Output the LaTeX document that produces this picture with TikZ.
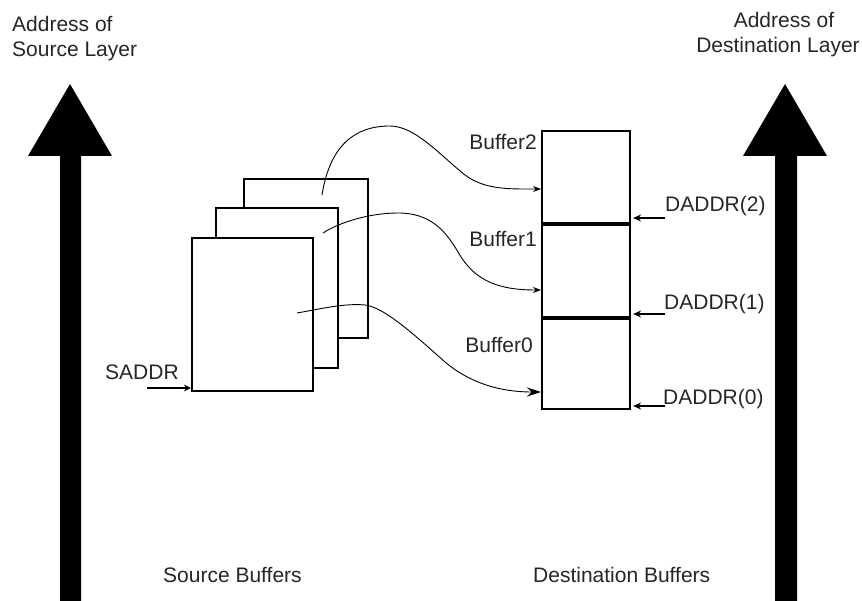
\documentclass[tikz,border=0pt]{standalone}
\usepackage{fontspec}
\setmainfont{Liberation Sans}
\usetikzlibrary{arrows.meta}
\begin{document}
\begin{tikzpicture}[x=1pt,y=-1pt,
  lbl/.style={inner sep=0pt,font=\fontsize{21}{25}\selectfont,text=black!85},
  bigarrow/.style={fill=black,draw=none},
  srcbox/.style={draw,line width=2.2pt,fill=white,inner sep=0pt,rectangle},
  dstbox/.style={draw,line width=2.2pt,inner sep=0pt,rectangle,minimum width=88pt},
  divider/.style={line width=3.2pt},
  flow/.style={line width=0.9pt,-{Stealth[length=8pt,width=6pt]}},
  bigflow/.style={line width=0.9pt,-{Stealth[length=14pt,width=9pt]}},
  ptr/.style={line width=1.5pt,-{Stealth[length=8pt,width=7pt]}}]
\useasboundingbox (0,0) rectangle (862,601);

% big address arrows
\fill (60,601) -- (60,156) -- (28,156) -- (70,84) -- (112,156) -- (81,156) -- (81,601) -- cycle;
\fill (775,601) -- (775,156) -- (743,156) -- (785,84) -- (827,156) -- (797,156) -- (797,601) -- cycle;

% top labels
\node[lbl,anchor=base west] (srcA) at (12,32) {Address of};
\node[lbl,anchor=base west] (srcB) at (12,57) {Source Layer};
\node[lbl,anchor=base] (dstA) at (784,28) {Address of};
\node[lbl,anchor=base] (dstB) at (778,53) {Destination Layer};

% source buffers (stacked)
\node[srcbox,minimum width=124pt,minimum height=159pt] (s2) at (306,258.5) {};
\node[srcbox,minimum width=122pt,minimum height=160pt] (s1) at (277,288) {};
\node[srcbox,minimum width=121pt,minimum height=153pt] (s0) at (252.5,314.5) {};

% destination buffers
\node[dstbox,minimum height=92pt] (db2) at (586,177) {};
\node[dstbox,minimum height=94pt] (db1) at (586,270) {};
\node[dstbox,minimum height=92pt] (db0) at (586,363) {};
\draw[divider] (db2.south west) -- (db2.south east);
\draw[divider] (db1.south west) -- (db1.south east);

% buffer labels
\node[lbl,anchor=base east] (b2) at (537,150) {Buffer2};
\node[lbl,anchor=base east] (b1) at (537,247) {Buffer1};
\node[lbl,anchor=base east] (b0) at (533,353) {Buffer0};

% flow curves
\coordinate (c2s) at (322,195);
\coordinate (c1s) at (323,233);
\coordinate (c0s) at (297,313);
\coordinate (c2e) at (541,189);
\coordinate (c1e) at (541,290);
\coordinate (c0e) at (541,392);
\draw[flow] (c2s) .. controls (330,145) and (355,126) .. (390,126)
  .. controls (415,126) and (440,155) .. (465,175)
  .. controls (485,190) and (510,189) .. (c2e);
\draw[flow] (c1s) .. controls (340,222) and (370,213) .. (398,213)
  .. controls (430,213) and (445,230) .. (458,252)
  .. controls (475,282) and (500,290) .. (c1e);
\draw[bigflow] (c0s) .. controls (320,309) and (345,303) .. (365,305)
  .. controls (385,307) and (420,340) .. (445,362)
  .. controls (470,383) and (500,392) .. (c0e);

% SADDR
\node[lbl,anchor=base west] (sa) at (105,380) {SADDR};
\coordinate (sas) at (147,388);
\draw[ptr,line width=1.3pt,-{Stealth[length=7pt,width=7pt]}] (sas) -- (s0.west |- sas);

% DADDR pointers
\coordinate (d2s) at (665,218);
\coordinate (d1s) at (665,314);
\coordinate (d0s) at (665,406);
\draw[ptr] (d2s) -- ([xshift=2pt]db2.east |- d2s);
\draw[ptr] (d1s) -- ([xshift=2pt]db1.east |- d1s);
\draw[ptr] (d0s) -- ([xshift=2pt]db0.east |- d0s);
\node[lbl,anchor=base west] (l2) at (665,212) {DADDR(2)};
\node[lbl,anchor=base west] (l1) at (664,310) {DADDR(1)};
\node[lbl,anchor=base west] (l0) at (663,405) {DADDR(0)};

% bottom labels
\node[lbl,anchor=base west] (sb) at (163,582) {Source Buffers};
\node[lbl,anchor=base west] (db) at (533,582) {Destination Buffers};
\end{tikzpicture}
\end{document}
